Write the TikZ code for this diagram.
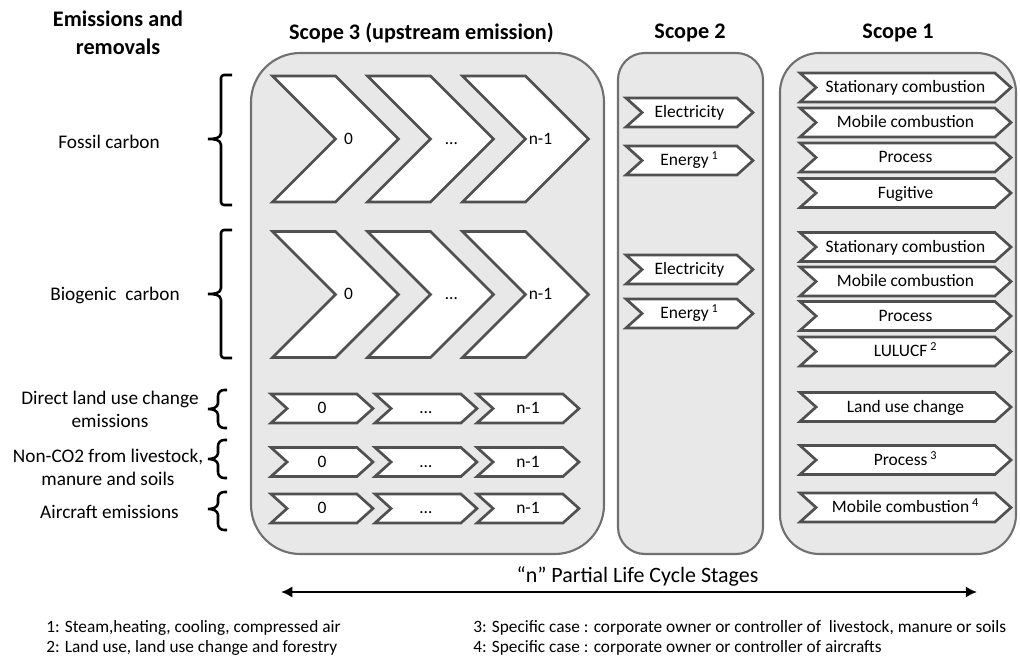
\documentclass[tikz,border=0pt]{standalone}
\usepackage{fontspec}
\setmainfont{Carlito}
\usetikzlibrary{shapes.symbols,arrows.meta,calc}

\definecolor{panelfill}{HTML}{E8E8E8}
\definecolor{panelline}{HTML}{707070}
\definecolor{chevline}{HTML}{505050}

\tikzset{
  panel/.style={draw=panelline, fill=panelfill, line width=1.5pt},
  chev/.style={shape=signal, signal from=west, signal to=east, signal pointer angle=84,
    draw=chevline, fill=white, line width=1.9pt, inner sep=0pt, text height=8pt, text depth=0.5pt,
    font=\fontsize{12.4}{14}\selectfont},
  bigchev/.style={chev, signal pointer angle=90, minimum width=3.125cm, minimum height=3.15cm},
  stagechev/.style={chev, minimum width=2.55cm, minimum height=0.725cm},
  stwochev/.style={chev, minimum width=3.175cm, minimum height=0.725cm},
  sonechev/.style={chev, minimum width=5.275cm, minimum height=0.725cm},
  chevtext/.style={font=\fontsize{12.4}{14}\selectfont, inner sep=0pt, text height=8pt, text depth=0.5pt},
  heading/.style={font=\bfseries\fontsize{15.8}{20}\selectfont, align=center},
  rowlabel/.style={font=\fontsize{13.7}{16.4}\selectfont, align=center},
  note/.style={font=\fontsize{12.3}{14}\selectfont, anchor=west, inner sep=0pt},
  brc/.style={line width=1.8pt, black},
  stagearrow/.style={{Latex[length=8pt,width=8pt]}-{Latex[length=8pt,width=8pt]}, line width=1.8pt},
}

\begin{document}
\begin{tikzpicture}[x=0.025cm, y=-0.025cm]
  \useasboundingbox (0,0) rectangle (1020,662);

  % Headings
  \node (hdem) [heading] at (118,33) {Emissions and\\removals};
  \node (hdthree) [heading] at (421.5,33) {Scope 3 (upstream emission)};
  \node (hdtwo) [heading] at (690,33) {Scope 2};
  \node (hdone) [heading] at (898,33) {Scope 1};

  % Panels
  \draw[panel, rounded corners=35pt] (251,53) rectangle (604,554);
  \draw[panel, rounded corners=19pt] (618,53) rectangle (763,554);
  \draw[panel, rounded corners=28pt] (780,53) rectangle (1016,554);

  % Row labels and their braces
  \node (lbfos) [rowlabel] at (109,142) {Fossil carbon};
  \node (lbbio) [rowlabel] at (115,295) {Biogenic\ \ carbon};
  \node (lbdluc) [rowlabel] at (110,409.5) {Direct land use change\\emissions};
  \node (lbnco) [rowlabel] at (108,467) {Non-CO2 from livestock,\\manure and soils};
  \node (lbair) [rowlabel] at (109.5,512) {Aircraft emissions};

  \foreach \t/\m/\b/\e/\s/\r in {75/139/205/232/221/3, 230/294/358/232/221/3,
      390/409/428/227/218/6, 440/459/478/227/218/6, 492/509/530/227/218/6}
    \draw[brc] (\e,\t) -- (\s+\r,\t) to[out=180,in=90] (\s,\t+\r) -- (\s,\m-6)
      to[out=-90,in=0] (208,\m) to[out=0,in=90] (\s,\m+6) -- (\s,\b-\r)
      to[out=-90,in=180] (\s+\r,\b) -- (\e,\b);

  % Scope 3: partial life cycle stages
  \foreach \row/\cy in {fos/139, bio/294.5} {
    \node (\row0) [bigchev] at (335.5,\cy) {};
    \node (\row1) [bigchev] at (430.5,\cy) {};
    \node (\row2) [bigchev] at (525.5,\cy) {};
    \node (\row0txt) [chevtext] at ($(\row0.center)+(13,0)$) {0};
    \node (\row1txt) [chevtext] at ($(\row1.center)+(21,0)$) {\ldots};
    \node (\row2txt) [chevtext] at ($(\row2.center)+(15,0)$) {n-1};
  }
  \foreach \row/\cy in {dluc/408.5, nco/462, air/508.5} {
    \node (\row0) [stagechev] at (322,\cy) {0};
    \node (\row1) [stagechev] at (426,\cy) {\ldots};
    \node (\row2) [stagechev] at (528,\cy) {n-1};
  }

  % Scope 2
  \node (elfos) [stwochev] at (689.5,112.5) {Electricity};
  \node (enfos) [stwochev] at (689.5,160.5) {Energy\,\textsuperscript{1}};
  \node (elbio) [stwochev] at (689.5,269.5) {Electricity};
  \node (enbio) [stwochev] at (689.5,313.5) {Energy\,\textsuperscript{1}};

  % Scope 1
  \node (stfos) [sonechev] at (905.5,87.5) {Stationary combustion};
  \node (mofos) [sonechev] at (905.5,122.5) {Mobile combustion};
  \node (prfos) [sonechev] at (905.5,157.5) {Process};
  \node (fufos) [sonechev] at (905.5,193) {Fugitive};
  \node (stbio) [sonechev] at (905.5,247) {Stationary combustion};
  \node (mobio) [sonechev] at (905.5,281.5) {Mobile combustion};
  \node (prbio) [sonechev] at (905.5,316) {Process};
  \node (lubio) [sonechev] at (905.5,351.5) {LULUCF\,\textsuperscript{2}};
  \node (luc) [sonechev] at (905.5,407) {Land use change};
  \node (prnco) [sonechev] at (905.5,460) {Process\,\textsuperscript{3}};
  \node (moair) [sonechev] at (905.5,507.5) {Mobile combustion\,\textsuperscript{4}};

  % Life cycle arrow
  \node (lctxt) [heading, font=\fontsize{15.6}{18}\selectfont] at (637.5,576) {“n” Partial Life Cycle Stages};
  \coordinate (lcleft) at (281,592);
  \coordinate (lcright) at (977,592);
  \draw[stagearrow] (lcleft) -- (lcright);

  % Footnotes
  \node (fnone) [note] at (46,628) {1: Steam,heating, cooling, compressed air};
  \node (fntwo) [note] at (46,648) {2: Land use, land use change and forestry};
  \node (fnthree) [note] at (473,628) {3: Specific case : corporate owner or controller of\ \ livestock, manure or soils};
  \node (fnfour) [note] at (473,648) {4: Specific case : corporate owner or controller of aircrafts};
\end{tikzpicture}
\end{document}
